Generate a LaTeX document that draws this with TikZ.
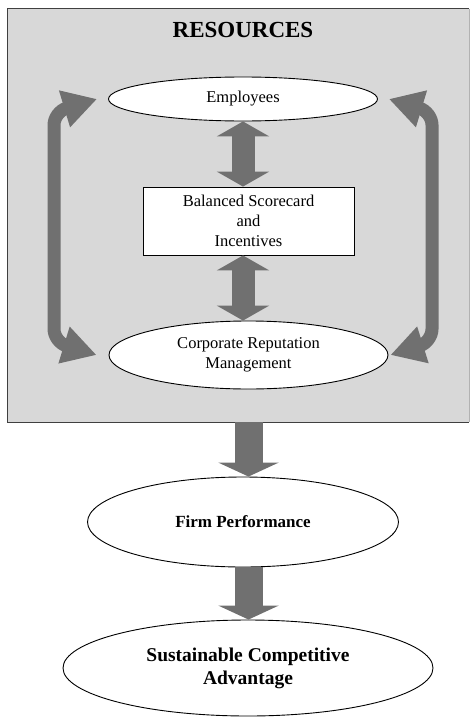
\documentclass[tikz,border=0pt]{standalone}
\usepackage{fontspec}
\setmainfont{Liberation Serif}
\usetikzlibrary{arrows.meta,shapes.geometric}
\definecolor{boxgray}{RGB}{216,216,216}
\definecolor{arrowgray}{RGB}{112,112,112}

\begin{document}
\begin{tikzpicture}[x=1pt,y=-1pt,
    oval/.style={draw=black, fill=white, ellipse, inner sep=0pt, align=center, line width=0.9pt},
    body/.style={font=\fontsize{16.5}{20}\selectfont},
    bold/.style={font=\fontsize{#1}{23}\selectfont\bfseries},
    twoway/.style={draw=arrowgray, line width=23pt,
        {Triangle[width=52pt,length=15pt]}-{Triangle[width=52pt,length=15pt]}},
    oneway/.style={draw=arrowgray, line width=28pt, -{Triangle[width=60pt,length=14pt]}},
    loopback/.style={draw=arrowgray, line width=13pt, rounded corners=13pt,
        {Triangle[width=36pt,length=34pt]}-{Triangle[width=36pt,length=34pt]}}]
    \useasboundingbox (0,0) rectangle (472,717);

    \node (res) [fill=boxgray, minimum width=461pt, minimum height=413pt, inner sep=0pt]
        at (238.5,215.5) {};
    \draw[black!75, line width=1.2pt] (res.north east) -- (res.north west) -- (res.south west)
        -- (res.south east);
    \draw[black!30, line width=0.8pt] (res.north east) -- (res.south east);
    \node (title) [bold=23] at (243,30) {RESOURCES};

    \node (emp) [oval, body, minimum width=269pt, minimum height=44pt] at (243,99) {Employees};
    \node (bsc) [draw=black, fill=white, line width=0.9pt, body, align=center,
        minimum width=211pt, minimum height=68pt, inner sep=0pt] at (248.5,221)
        {Balanced Scorecard\\and\\Incentives};
    \node (crm) [oval, body, minimum width=279pt, minimum height=68pt] at (248.5,355)
        {Corporate Reputation\\Management};

    \draw[twoway] (emp.south) -- (emp.south |- bsc.north);
    \draw[twoway] (bsc.south -| emp.south) -- (crm.north -| emp.south);

    \draw[loopback] ([xshift=-11pt]emp.west) -- (54,112) -- (54,342) -- ([xshift=-12pt]crm.west);
    \draw[loopback] ([xshift=11pt]emp.east) -- (432,112) -- (432,342) -- ([xshift=2pt]crm.east);

    \node (firm) [oval, bold=17, minimum width=311pt, minimum height=90pt] at (243,522)
        {Firm Performance};
    \node (sca) [oval, bold=19.5, minimum width=370pt, minimum height=96pt] at (248,668)
        {Sustainable Competitive\\Advantage};

    \draw[oneway] (res.south -| crm.south) -- (firm.north -| crm.south);
    \draw[oneway] (firm.south -| crm.south) -- (sca.north -| crm.south);
\end{tikzpicture}
\end{document}
